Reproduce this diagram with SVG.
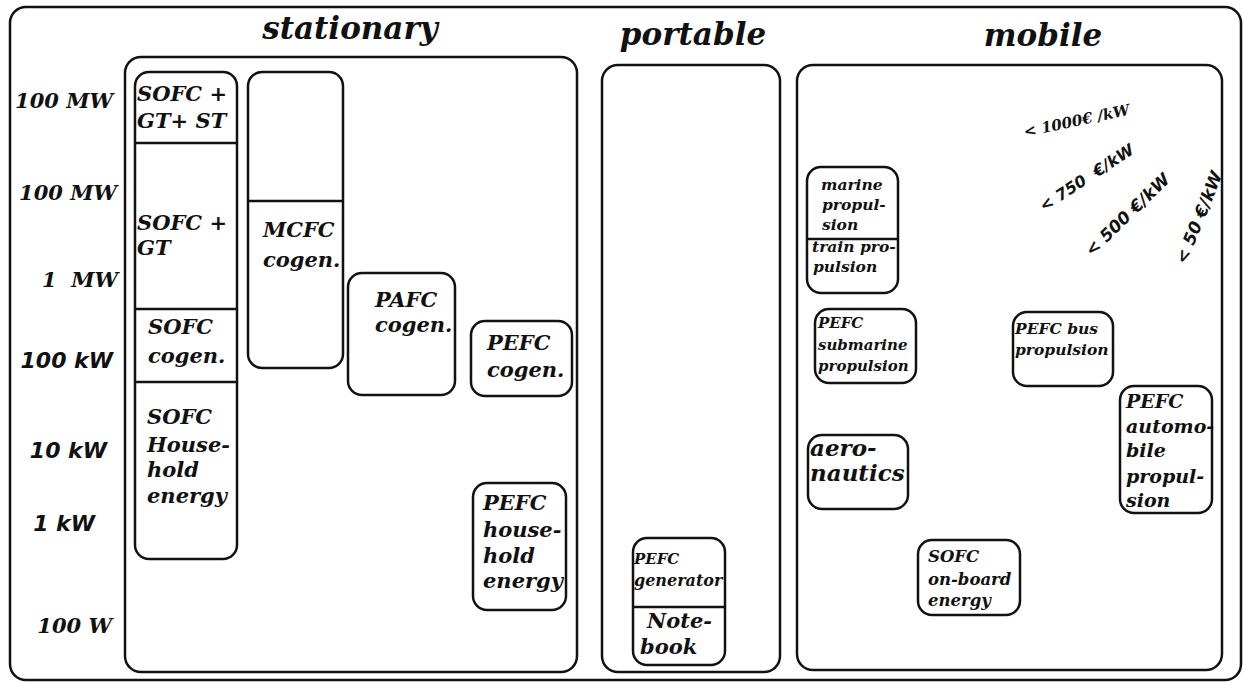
<svg xmlns="http://www.w3.org/2000/svg" width="1243" height="683" viewBox="0 0 1243 683">
<style>
.frame{fill:none;stroke:#111;stroke-width:2.5}
.box{fill:#fff;stroke:#111;stroke-width:2.5}
.div{stroke:#111;stroke-width:2.5}
.t{font-family:"DejaVu Serif","Liberation Serif",serif;font-weight:bold;font-style:italic;fill:#111}
.s{font-family:"DejaVu Sans","Liberation Sans",sans-serif;font-weight:bold;font-style:italic;fill:#111}
.title{font-size:31px}
.ax{font-size:21px}
.axs{font-size:22px}
.b22{font-size:21px}
.cost{font-family:"DejaVu Sans","Liberation Sans",sans-serif;font-style:italic;fill:#111}
</style>
<rect x="0" y="0" width="1243" height="683" fill="#fff"/>
<rect id="outer" class="frame" x="10" y="7" width="1231" height="673" rx="16"/>

<g id="titles">
<text class="t title" x="350" y="39" text-anchor="middle">stationary</text>
<text class="t title" x="693" y="45" text-anchor="middle">portable</text>
<text class="t title" x="1043" y="46" text-anchor="middle">mobile</text>
</g>

<g id="axis">
<text class="t ax" x="113" y="108" text-anchor="end">100 MW</text>
<text class="t ax" x="117" y="200" text-anchor="end">100 MW</text>
<text class="t ax" x="118" y="287" text-anchor="end" xml:space="preserve">1  MW</text>
<text class="s axs" x="113" y="368" text-anchor="end">100 kW</text>
<text class="s axs" x="107" y="458" text-anchor="end">10 kW</text>
<text class="s axs" x="95" y="531" text-anchor="end">1 kW</text>
<text class="t ax" x="112" y="633" text-anchor="end">100 W</text>
</g>

<g id="stationary">
<rect class="frame" x="125" y="57" width="452" height="615" rx="16"/>
</g>
<g id="portable">
<rect class="frame" x="602" y="65" width="178" height="607" rx="16"/>
</g>
<g id="mobile">
<rect class="frame" x="797" y="65" width="425" height="605" rx="16"/>
</g>

<g id="sofc-column">
<rect class="box" x="135" y="72" width="102" height="487" rx="14"/>
<line class="div" x1="135" y1="143" x2="237" y2="143"/>
<line class="div" x1="135" y1="309" x2="237" y2="309"/>
<line class="div" x1="135" y1="382" x2="237" y2="382"/>
<text class="t b22" x="137" y="101">SOFC +</text>
<text class="t b22" x="137" y="128">GT+ ST</text>
<text class="t b22" x="137" y="230">SOFC +</text>
<text class="t b22" x="137" y="255">GT</text>
<text class="t b22" x="148" y="334">SOFC</text>
<text class="t b22" x="148" y="363">cogen.</text>
<text class="t b22" x="147" y="424">SOFC</text>
<text class="t b22" x="147" y="452">House-</text>
<text class="t b22" x="147" y="477">hold</text>
<text class="t b22" x="147" y="503">energy</text>
</g>

<g id="mcfc">
<rect class="box" x="248" y="72" width="95" height="296" rx="14"/>
<line class="div" x1="248" y1="201" x2="343" y2="201"/>
<text class="t b22" x="263" y="237">MCFC</text>
<text class="t b22" x="263" y="267">cogen.</text>
</g>

<g id="pafc">
<rect class="box" x="348" y="273" width="107" height="122" rx="14"/>
<text class="t b22" x="375" y="307">PAFC</text>
<text class="t b22" x="375" y="332">cogen.</text>
</g>

<g id="pefc-cogen">
<rect class="box" x="471" y="321" width="101" height="75" rx="14"/>
<text class="t b22" x="487" y="350">PEFC</text>
<text class="t b22" x="487" y="377">cogen.</text>
</g>

<g id="pefc-household">
<rect class="box" x="473" y="483" width="93" height="127" rx="14"/>
<text class="t b22" x="483" y="510">PEFC</text>
<text class="t b22" x="483" y="537">house-</text>
<text class="t b22" x="483" y="563">hold</text>
<text class="t b22" x="483" y="588">energy</text>
</g>

<g id="pefc-generator">
<rect class="box" x="633" y="538" width="92" height="127" rx="14"/>
<line class="div" x1="633" y1="607" x2="725" y2="607"/>
<text class="t" font-size="15" x="634" y="564">PEFC</text>
<text class="t" font-size="16" x="634" y="586">generator</text>
<text class="t" font-size="21" x="647" y="628">Note-</text>
<text class="t" font-size="21" x="640" y="654">book</text>
</g>

<g id="marine-train">
<rect class="box" x="807" y="167" width="91" height="126" rx="14"/>
<line class="div" x1="807" y1="239" x2="898" y2="239"/>
<text class="t" font-size="15.5" x="821" y="190">marine</text>
<text class="t" font-size="15.5" x="822" y="210">propul-</text>
<text class="t" font-size="15.5" x="822" y="230">sion</text>
<text class="t" font-size="15.5" x="812" y="252">train pro-</text>
<text class="t" font-size="15.5" x="813" y="272">pulsion</text>
</g>

<g id="pefc-submarine">
<rect class="box" x="815" y="309" width="101" height="74" rx="14"/>
<text class="t" font-size="15" x="818" y="328">PEFC</text>
<text class="t" font-size="15" x="818" y="350">submarine</text>
<text class="t" font-size="15" x="818" y="371">propulsion</text>
</g>

<g id="pefc-bus">
<rect class="box" x="1013" y="312" width="100" height="74" rx="14"/>
<text class="t" font-size="15.5" x="1015" y="334">PEFC bus</text>
<text class="t" font-size="15.5" x="1015" y="355">propulsion</text>
</g>

<g id="pefc-automobile">
<rect class="box" x="1120" y="386" width="92" height="127" rx="14"/>
<text class="t" font-size="19" x="1126" y="408">PEFC</text>
<text class="t" font-size="19" x="1126" y="433">automo-</text>
<text class="t" font-size="19" x="1126" y="457">bile</text>
<text class="t" font-size="19" x="1126" y="483">propul-</text>
<text class="t" font-size="19" x="1126" y="507">sion</text>
</g>

<g id="aeronautics">
<rect class="box" x="808" y="435" width="100" height="74" rx="14"/>
<text class="t" font-size="23" x="810" y="456">aero-</text>
<text class="t" font-size="23" x="810" y="481">nautics</text>
</g>

<g id="sofc-onboard">
<rect class="box" x="918" y="540" width="102" height="75" rx="14"/>
<text class="t" font-size="16.5" x="928" y="562">SOFC</text>
<text class="t" font-size="16.5" x="928" y="585">on-board</text>
<text class="t" font-size="16.5" x="928" y="606">energy</text>
</g>

<g id="cost-labels">
<text class="t" font-size="15" font-weight="normal" transform="translate(1025,137) rotate(-12)">&lt; 1000€ /kW</text>
<text class="cost" font-size="16" font-weight="bold" transform="translate(1044,212) rotate(-33)" xml:space="preserve">&lt; 750  €/kW</text>
<text class="cost" font-size="17" font-weight="bold" transform="translate(1092,257) rotate(-44)">&lt; 500 €/kW</text>
<text class="cost" font-size="17" font-weight="bold" transform="translate(1186,265) rotate(-68)">&lt; 50 €/kW</text>
</g>
</svg>
